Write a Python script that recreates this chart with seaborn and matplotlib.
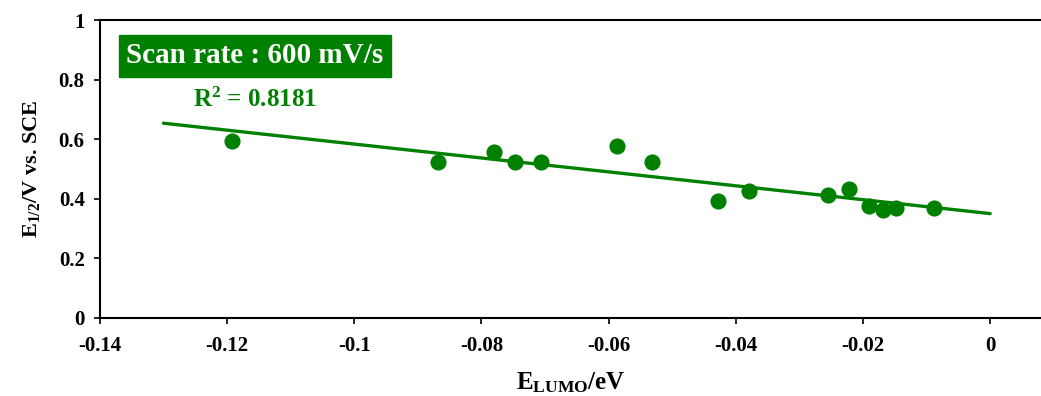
import numpy as np
import pandas as pd
import seaborn as sns
import matplotlib.pyplot as plt
from matplotlib.ticker import FuncFormatter

# E_LUMO (eV) and E1/2 (V vs SCE)
e_lumo = [-0.1192, -0.0868, -0.0781, -0.0748, -0.0707, -0.0587, -0.0531, -0.0428,
          -0.0380, -0.0255, -0.0222, -0.0191, -0.0168, -0.0148, -0.0088]
e_half = [0.594, 0.523, 0.557, 0.523, 0.523, 0.577, 0.523, 0.393,
          0.426, 0.413, 0.433, 0.376, 0.362, 0.369, 0.369]
x_ticks = [-0.14, -0.12, -0.1, -0.08, -0.06, -0.04, -0.02, 0]
y_ticks = [0, 0.2, 0.4, 0.6, 0.8, 1]
r2_label = "0.8181"
title_text = "Scan rate : 600 mV/s"

green = "#008000"

sns.set_style("ticks", {"text.color": "black", "xtick.color": "black",
                        "ytick.color": "black", "axes.labelcolor": "black"})
plt.rcParams['font.family'] = ['Liberation Serif', 'DejaVu Serif']
plt.rcParams['font.weight'] = 'bold'
plt.rcParams['mathtext.fontset'] = 'custom'
plt.rcParams['mathtext.rm'] = 'Liberation Serif:bold'
plt.rcParams['mathtext.it'] = 'Liberation Serif:bold:italic'
plt.rcParams['mathtext.bf'] = 'Liberation Serif:bold'

df = pd.DataFrame({"x": e_lumo, "y": e_half})

fig = plt.figure(figsize=(10.41, 3.96), dpi=100)
ax = fig.add_axes([0.096, 0.197, 0.904, 0.752])

sns.scatterplot(data=df, x="x", y="y", ax=ax, color=green, s=135,
                edgecolor=green, linewidth=0, zorder=3)

# linear trendline
k, b = np.polyfit(df["x"], df["y"], 1)
xl = np.array([-0.13, 0.0])
ax.plot(xl, k * xl + b, color=green, lw=2.4, zorder=2)

ax.set_xlim(-0.14, 0.008)
ax.set_ylim(0, 1)
ax.set_xticks(x_ticks)
ax.set_yticks(y_ticks)
fmt = FuncFormatter(lambda v, p: f"{v:g}")
ax.xaxis.set_major_formatter(fmt)
ax.yaxis.set_major_formatter(fmt)
ax.tick_params(axis="both", labelsize=15, length=4, width=1.2,
               color="black", labelcolor="black")
ax.tick_params(axis="y", pad=7)
ax.tick_params(axis="x", pad=9)
ax.spines["right"].set_visible(False)
for s in ax.spines.values():
    s.set_linewidth(1.5)
    s.set_color("black")

ax.set_xlabel(r"E$_{\mathrm{LUMO}}$/eV", fontsize=18, fontweight="bold",
              labelpad=10, color="black")
ax.set_ylabel(r"E$_{\mathit{1/2}}$/V vs. SCE", fontsize=16, fontweight="bold",
              labelpad=12, color="black")

ax.text(-0.1359, 0.88, title_text, fontsize=21, fontweight="bold", color="white",
        va="center", ha="left",
        bbox=dict(boxstyle="square,pad=0.25", facecolor=green, edgecolor=green))
ax.text(-0.1254, 0.732, r"R$^2$ = " + r2_label, fontsize=18, fontweight="bold",
        color=green, va="center", ha="left")

fig.savefig("out.png", dpi=100)
